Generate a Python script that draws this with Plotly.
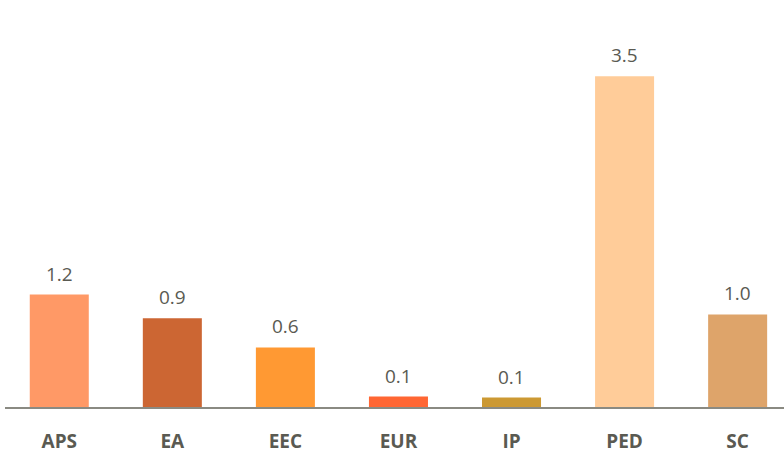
import plotly.graph_objects as go

categories = ["APS", "EA", "EEC", "EUR", "IP", "PED", "SC"]
values = [1.19, 0.94, 0.63, 0.11, 0.10, 3.50, 0.98]
colors = ["#FF9966", "#CC6633", "#FF9933", "#FF6633", "#CC9933", "#FFCC99", "#DEA46A"]

fig = go.Figure(
    go.Bar(
        x=categories,
        y=values,
        marker=dict(color=colors, line=dict(width=0)),
        hoverinfo="skip",
    )
)

for c, v in zip(categories, values):
    fig.add_annotation(
        x=c, y=v, text=f"{v:.1f}", showarrow=False,
        yanchor="bottom", yshift=6,
        font=dict(family="Open Sans", size=19, color="#5a5a52"),
    )

fig.update_layout(
    width=784,
    height=454,
    margin=dict(l=5, r=0, t=29, b=47),
    paper_bgcolor="#ffffff",
    plot_bgcolor="#ffffff",
    bargap=0.478,
    showlegend=False,
    xaxis=dict(
        range=[-0.48, 6.41],
        showline=True,
        linecolor="#8a8a82",
        linewidth=2,
        showgrid=False,
        ticks="",
        ticklabelstandoff=16,
        tickfont=dict(family="Open Sans", size=19, color="#5a5a52", weight="bold"),
    ),
    yaxis=dict(
        range=[0, 4.0],
        showgrid=False,
        zeroline=False,
        showticklabels=False,
        showline=False,
    ),
)

fig.write_html(
    "out.html",
    config={"displayModeBar": False, "staticPlot": True},
    post_script="document.body.style.margin='0';document.body.style.overflow='hidden';",
)
